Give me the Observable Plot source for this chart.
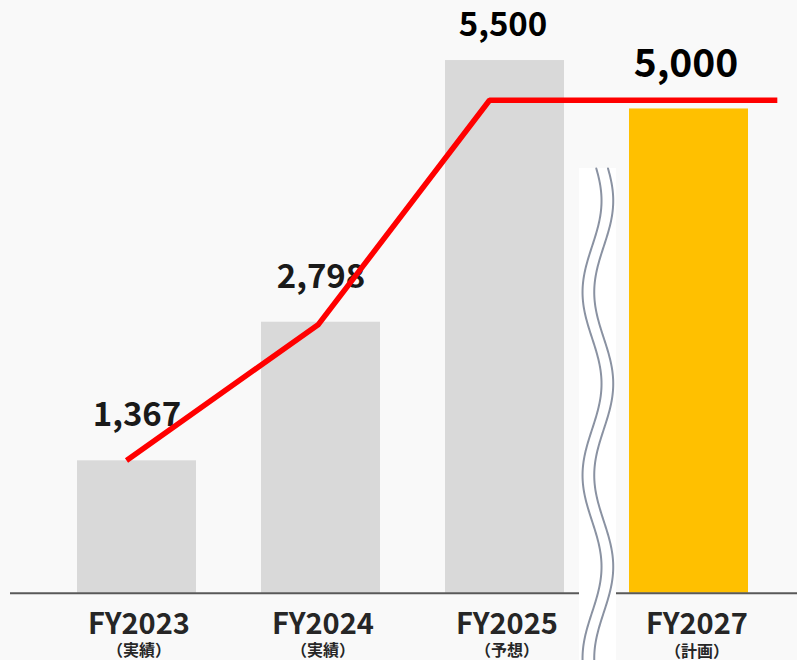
<!DOCTYPE html>
<html><head><meta charset="utf-8">
<script src="https://cdn.jsdelivr.net/npm/d3@7"></script>
<script src="https://cdn.jsdelivr.net/npm/@observablehq/plot@0.6"></script>
<style>
html,body{margin:0;padding:0;background:#f9f9f9;}
#chart svg{display:block;}
</style></head><body><div id="chart"></div>
<script>
// ---- data ----
const categories = ["FY2023", "FY2024", "FY2025", "FY2027"];
const subLabels = ["（実績）", "（実績）", "（予想）", "（計画）"];
const values = [1367, 2798, 5500, 5000];
const valueLabels = ["1,367", "2,798", "5,500", "5,000"];
// red line: positions in category-index units, values in same units as bars
const lineX = [-0.057, 0.986, 1.916, 3.48];
const lineValues = [1370, 2775, 5090, 5090];

const bars = categories.map((c, i) => ({i, cat: c, sub: subLabels[i], value: values[i], label: valueLabels[i]}));
const linePts = lineX.map((x, i) => ({x, y: lineValues[i]}));

const half = 0.3234;
const font = "'Noto Sans CJK JP', 'Noto Sans', sans-serif";

// decorative axis-break wave (not data)
const waveTop = 4385, waveBottom = -720;
const wave = [];
for (let y = waveTop; y >= waveBottom; y -= 15) {
  const off = 0.0516 * Math.cos(2 * Math.PI * (4053 - y) / 1890);
  wave.push({y, a: 2.473 + off, b: 2.473 + 0.0636 + off});
}

const early = bars.filter(d => d.cat !== "FY2027");
const last = bars.filter(d => d.cat === "FY2027");

const chart = Plot.plot({
  width: 797, height: 660,
  marginTop: 0, marginBottom: 67.3, marginLeft: 44.5, marginRight: 16.5,
  x: {type: "linear", domain: [-0.5, 3.5], axis: null},
  y: {domain: [0, 6120], axis: null},
  style: {background: "#f9f9f9", overflow: "visible", fontFamily: font},
  marks: [
    Plot.rect(early, {x1: d => d.i - half, x2: d => d.i + half, y1: 0, y2: "value", fill: "#d9d9d9"}),
    Plot.rect(last, {x1: d => d.i - half, x2: d => d.i + half, y1: 0, y2: "value", fill: "#ffc000"}),
    Plot.ruleY([0], {x1: -0.6875, x2: 3.6, stroke: "#595959", strokeWidth: 2}),
    // break box
    Plot.rect([0], {x1: 2.405, x2: 2.606, y1: waveBottom, y2: waveTop, fill: "#ffffff"}),
    Plot.line(wave, {x: "a", y: "y", stroke: "#8a92a2", strokeWidth: 2, curve: "natural"}),
    Plot.line(wave, {x: "b", y: "y", stroke: "#8a92a2", strokeWidth: 2, curve: "natural"}),
    // value labels
    Plot.text(bars.filter(d => d.cat === "FY2023" || d.cat === "FY2024"), {x: "i", y: "value", text: "label", lineAnchor: "middle", dy: -45, fontSize: 33, fontWeight: "bold", fill: "#1a1a1a", fontFamily: font}),
    Plot.text(bars.filter(d => d.cat === "FY2025"), {x: "i", y: "value", text: "label", lineAnchor: "middle", dy: -35, dx: -2, fontSize: 33, fontWeight: "bold", fill: "#000", fontFamily: font}),
    Plot.text(last, {x: "i", y: "value", text: "label", lineAnchor: "middle", dy: -44, dx: -3, fontSize: 39, fontWeight: "bold", fill: "#000", fontFamily: font}),
    // category labels
    Plot.text(early, {x: "i", text: "cat", frameAnchor: "bottom", lineAnchor: "middle", dy: 32, dx: 2, fontSize: 29, fontWeight: "bold", fill: "#262626", fontFamily: font}),
    Plot.text(last, {x: "i", text: "cat", frameAnchor: "bottom", lineAnchor: "middle", dy: 32, dx: 8, fontSize: 29, fontWeight: "bold", fill: "#262626", fontFamily: font}),
    Plot.text(early, {x: "i", text: "sub", frameAnchor: "bottom", lineAnchor: "middle", dy: 58, dx: 2, fontSize: 16, fontWeight: "bold", fill: "#262626", fontFamily: font}),
    Plot.text(last, {x: "i", text: "sub", frameAnchor: "bottom", lineAnchor: "middle", dy: 59, dx: 8, fontSize: 16, fontWeight: "bold", fill: "#262626", fontFamily: font}),
    // red line
    Plot.line(linePts, {x: "x", y: "y", stroke: "#ff0000", strokeWidth: 5.5, strokeLinejoin: "miter", strokeLinecap: "butt"})
  ]
});
document.getElementById("chart").append(chart);
</script>
</body></html>
